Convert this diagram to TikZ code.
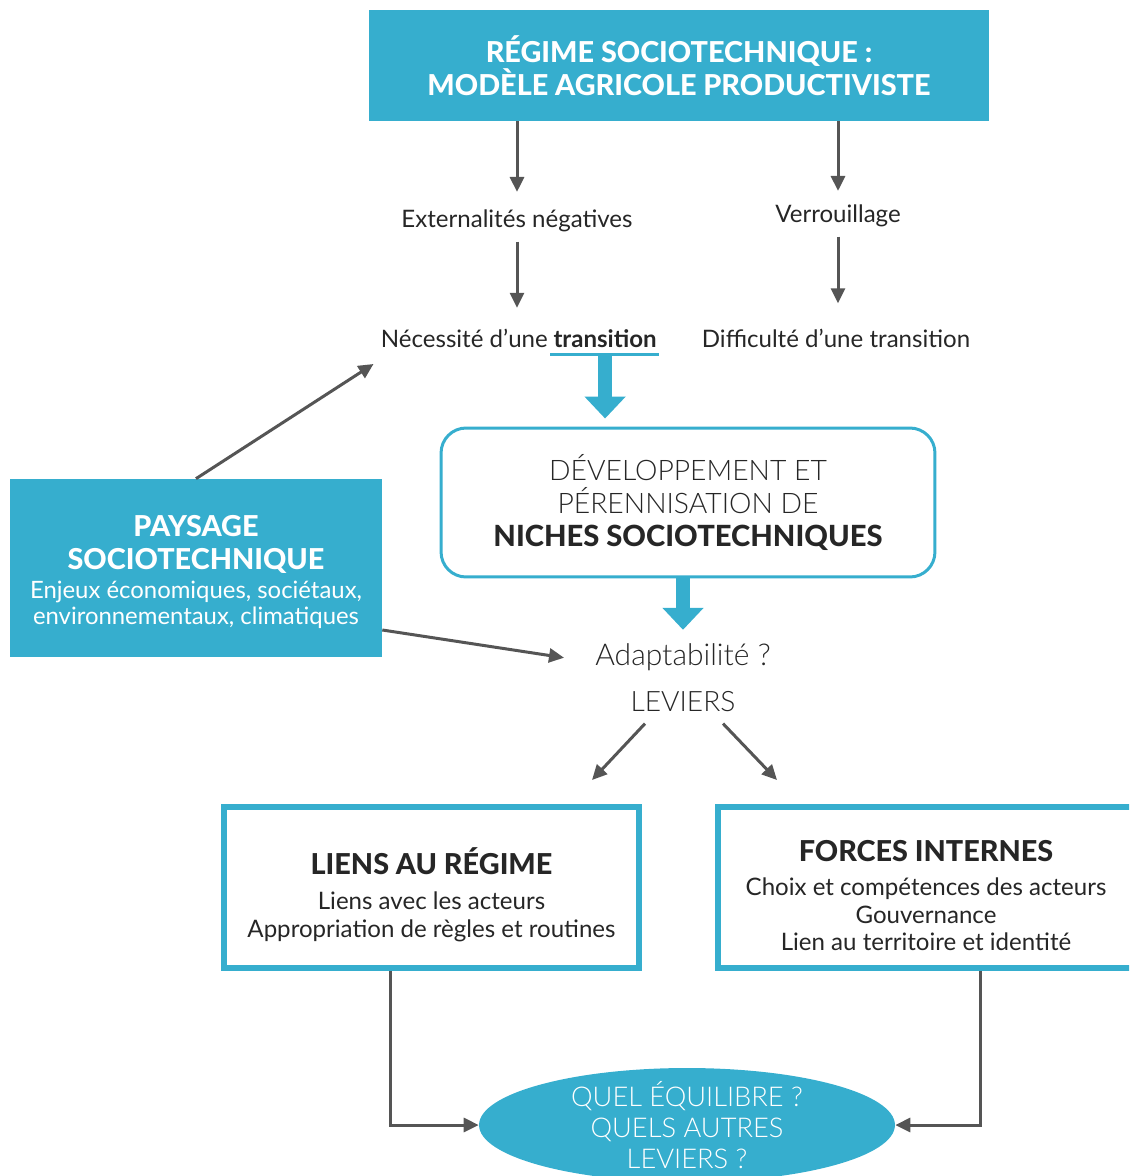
\documentclass[tikz,border=0pt]{standalone}
\usepackage{fontspec}
\setmainfont{Lato}
\newfontfamily\heavyfont{Lato Heavy}
\newfontfamily\lightfont{Lato Light}
\usetikzlibrary{arrows.meta,shapes.geometric}
\definecolor{sky}{HTML}{36AECE}
\definecolor{arrowgray}{HTML}{555555}
\definecolor{ink}{HTML}{262626}
\newcommand{\headfont}{\fontsize{16.4}{18.7}\heavyfont}
\begin{document}
\begin{tikzpicture}[x=0.02cm,y=-0.02cm]

% Style for boxes and texts
\tikzstyle{bluebox}=[rectangle,fill=sky,inner sep=0]
\tikzstyle{framebox}=[rectangle,draw=sky,line width=0.12cm,fill=white,inner sep=0]
\tikzstyle{nichebox}=[rectangle,rounded corners=0.5cm,draw=sky,line width=0.06cm,text=ink,align=center,inner sep=0]
\tikzstyle{boxtext}=[align=center,inner sep=0]
\tikzstyle{caption}=[text=ink,inner sep=0,font=\fontsize{13.7}{16}\selectfont]
% Style for arrows
\tikzstyle{pointer}=[draw=arrowgray,line width=0.06cm,-{Triangle[width=0.28cm,length=0.3cm]}]
\tikzstyle{bigpointer}=[draw=sky,line width=0.28cm,-{Triangle[width=0.8cm,length=0.44cm]}]

% Page frame
\useasboundingbox (0,0) rectangle (1129,1176);
\clip (0,0) rectangle (1129,1176);

% Regime and its consequences
\node(regime)[bluebox,text=white,align=center,minimum width=12.4cm,minimum height=2.22cm,font=\headfont] at (679,65.5){RÉGIME SOCIOTECHNIQUE :\\MODÈLE AGRICOLE PRODUCTIVISTE};
\node(extern)[caption,anchor=base] at (517,227){Externalités négatives};
\node(verrou)[caption,anchor=base] at (838,222){Verrouillage};
\node(transition)[caption,anchor=base east,font=\fontsize{13.7}{16}\selectfont\bfseries] at (657,347){transition};
\node(necessite)[caption,anchor=base east] at ([shift={(-5,0)}]transition.base west){Nécessité d’une};
\node(difficulte)[caption,anchor=base] at (836,347){Difficulté d’une transition};
\draw[sky,line width=0.06cm] ([shift={(-3,7)}]transition.south west) -- ([shift={(2,7)}]transition.south east);

% Niches and levers
\node(niches)[nichebox,minimum width=9.88cm,minimum height=2.98cm,font=\fontsize{16.1}{18.7}\lightfont] at (688,502.5){DÉVELOPPEMENT ET\\PÉRENNISATION DE\\{\fontsize{16.6}{18.7}\heavyfont NICHES SOCIOTECHNIQUES}};
\node(adapt)[caption,anchor=base,font=\fontsize{17.1}{18}\lightfont] at (683,665){Adaptabilité ?};
\node(leviers)[caption,anchor=base,font=\fontsize{16}{18}\lightfont] at (683,711){LEVIERS};

% Landscape
\node(paysage)[bluebox,minimum width=7.44cm,minimum height=3.56cm,label={[boxtext,text=white,yshift=-0.08cm,font=\fontsize{13.6}{14.7}\selectfont]center:{{\headfont PAYSAGE}\\[3.8pt]{\headfont SOCIOTECHNIQUE}\\[1.9pt]Enjeux économiques, sociétaux,\\environnementaux, climatiques}}] at (196,568){};

% The two kinds of levers
\node(liens)[framebox,minimum width=8.3cm,minimum height=3.22cm,label={[boxtext,text=ink,yshift=-0.14cm,font=\fontsize{13.7}{15.7}\selectfont]center:{{\headfont LIENS AU RÉGIME}\\[4.5pt]Liens avec les acteurs\\Appropriation de règles et routines}}] at (431.5,887.5){};
\node(forces)[framebox,minimum width=8.32cm,minimum height=3.22cm,label={[boxtext,text=ink,yshift=-0.16cm,font=\fontsize{13.7}{15.6}\selectfont]center:{{\headfont FORCES INTERNES}\\[4.2pt]Choix et compétences des acteurs\\Gouvernance\\Lien au territoire et identité}}] at (926,887.5){};
\node(equil)[ellipse,fill=sky,minimum width=8.32cm,minimum height=2.28cm,inner sep=0,label={[boxtext,text=white,font=\fontsize{15.5}{17.7}\lightfont]center:{QUEL ÉQUILIBRE ?\\QUELS AUTRES\\LEVIERS ?}}] at (687,1125){};

% Arrows
\draw[pointer,shorten >=0.34cm] (regime.south -| extern.north) -- (extern.north);
\draw[pointer,shorten >=0.26cm] (regime.south -| verrou.north) -- (verrou.north);
\draw[pointer,shorten <=0.2cm,shorten >=0.42cm] (extern.south) -- (extern.south |- transition.north);
\draw[pointer,shorten <=0.2cm,shorten >=0.5cm] (verrou.south) -- (verrou.south |- difficulte.north);
\draw[bigpointer,shorten <=0.14cm,shorten >=0.16cm] (transition.south) -- (transition.south |- niches.north);
\draw[bigpointer,shorten >=0.26cm] (niches.south -| adapt.north) -- (adapt.north);
\draw[pointer] (paysage.north) -- ([shift={(-7,17)}]necessite.base west);
\draw[pointer] ([shift={(0,62)}]paysage.east) -- ([shift={(-31,1)}]adapt.west);
\draw[pointer] ([shift={(-38,12)}]leviers.south) -- ([shift={(160.5,-24)}]liens.north);
\draw[pointer] ([shift={(40,12)}]leviers.south) -- ([shift={(-149,-24)}]forces.north);
\draw[pointer] ([shift={(-41,0)}]liens.south) |- (equil.west);
\draw[pointer] ([shift={(54,0)}]forces.south) |- (equil.east);
\end{tikzpicture}
\end{document}
